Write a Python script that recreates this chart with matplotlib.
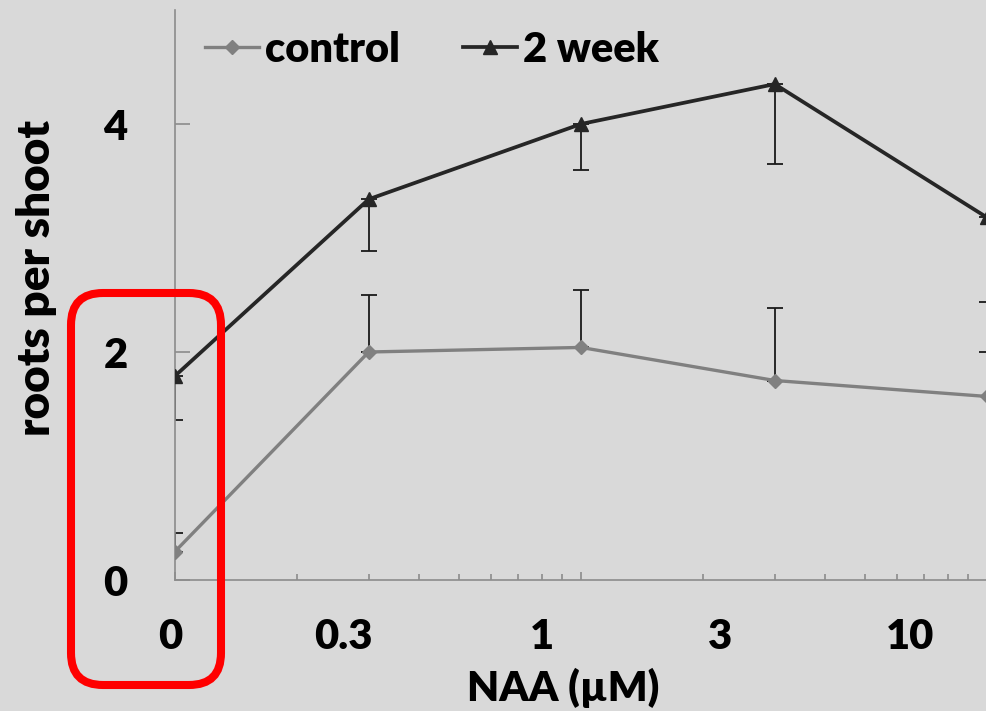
import matplotlib.pyplot as plt
from matplotlib.patches import FancyBboxPatch
from matplotlib.ticker import LogLocator, NullFormatter

# NAA doses; the 0 dose is drawn at the left end of the log axis (0.1)
naa = [0.1, 0.3, 1, 3, 10]
naa_labels = ['0', '0.3', '1', '3', '10']
label_pos = [-0.006, 0.207, 0.452, 0.671, 0.905]  # axes fraction, as in the original

control = [0.25, 2.0, 2.04, 1.75, 1.61]
control_err = [0.16, 0.50, 0.50, 0.64, 0.83]   # drawn upward only
week2 = [1.79, 3.34, 4.0, 4.35, 3.18]
week2_err = [0.39, 0.45, 0.40, 0.70, 1.18]     # drawn downward only

bg = '#d9d9d9'
axis_col = '#8c8c8c'
fs = 30
wt = 'heavy'
plt.rcParams['font.family'] = ['Lato', 'DejaVu Sans']
plt.rcParams['font.weight'] = wt

fig = plt.figure(figsize=(9.86, 7.11), dpi=100, facecolor=bg)
ax = fig.add_axes([175/986, 131/711, 812/986, 570/711])
ax.set_facecolor(bg)

zeros = [0]*len(naa)
ax.errorbar(naa, control, yerr=[zeros, control_err], fmt='none', ecolor='#1a1a1a',
            elinewidth=1.3, capsize=5.5, capthick=1.3, zorder=2)
ax.errorbar(naa, week2, yerr=[week2_err, zeros], fmt='none', ecolor='#1a1a1a',
            elinewidth=1.3, capsize=5.5, capthick=1.3, zorder=2)
ax.plot(naa, control, color='#808080', lw=2.4, marker='D', ms=7.5, label='control', zorder=3)
ax.plot(naa, week2, color='#262626', lw=2.7, marker='^', ms=10.5, label='2 week', zorder=4)

ax.set_xscale('log')
ax.set_xlim(0.1, 10)
ax.set_ylim(0, 5)

for s in ['top', 'right']:
    ax.spines[s].set_visible(False)
for s in ['left', 'bottom']:
    ax.spines[s].set_color(axis_col)
    ax.spines[s].set_linewidth(1.2)

ax.set_yticks([0, 2, 4])
ax.tick_params(axis='y', direction='in', length=11, width=1.2, color=axis_col,
               labelsize=fs, pad=34)
ax.xaxis.set_major_locator(LogLocator(base=10))
ax.xaxis.set_minor_locator(LogLocator(base=10, subs=range(2, 10)))
ax.xaxis.set_major_formatter(NullFormatter())
ax.xaxis.set_minor_formatter(NullFormatter())
ax.tick_params(axis='x', which='major', direction='in', length=6, width=1.2, color=axis_col)
ax.tick_params(axis='x', which='minor', direction='in', length=4.5, width=1.2, color=axis_col)

for p, lab in zip(label_pos, naa_labels):
    ax.text(p, -0.1, lab, transform=ax.transAxes, ha='center', va='center',
            fontsize=fs, fontweight=wt, clip_on=False)

fig.text(563/986, 10/711, 'NAA (µM)', ha='center', va='baseline', fontsize=fs, fontweight=wt)
fig.text(37/986, 1 - 278/711, 'roots per shoot', rotation=90, ha='center', va='center',
         fontsize=33, fontweight=wt)

ax.legend(loc='center left', bbox_to_anchor=(205/986, 1 - 50/711), bbox_transform=fig.transFigure,
          ncol=2, frameon=False, prop={'size': fs, 'weight': wt}, handlelength=1.3,
          handletextpad=0.15, columnspacing=1.5, borderpad=0, borderaxespad=0)

# red rounded box highlighting the 0 dose (drawn in pixel coords)
box = FancyBboxPatch((71, 26), 150, 392, boxstyle='round,pad=0,rounding_size=32',
                     transform=None, fill=False, edgecolor='#ff0000', lw=5.8, zorder=10)
fig.add_artist(box)

fig.savefig('out.png', dpi=100, facecolor=bg)
